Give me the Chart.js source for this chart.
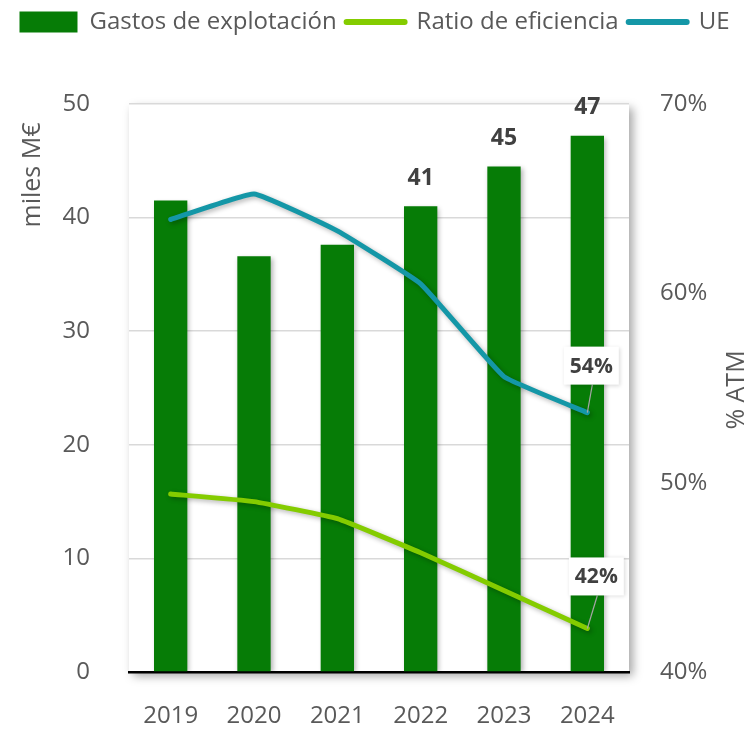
<!DOCTYPE html>
<html><head><meta charset="utf-8">
<script src="https://cdn.jsdelivr.net/npm/chart.js@4"></script>
<style>html,body{margin:0;padding:0;background:#fff}#wrap{width:749px;height:730px;position:relative}</style>
</head><body><div id="wrap"><canvas id="c" width="749" height="730"></canvas></div>
<script>
const categories = ['2019', '2020', '2021', '2022', '2023', '2024'];
const gastos = [41.5, 36.6, 37.6, 41.0, 44.5, 47.2];
const ratio = [49.4, 49.0, 48.1, 46.3, 44.3, 42.3];
const ue = [63.9, 65.25, 63.3, 60.5, 55.6, 53.7];
const gastosLabels = ['', '', '', '41', '45', '47'];
const ratioLabels = ['', '', '', '', '', '42%'];
const ueLabels = ['', '', '', '', '', '54%'];
const leftTicks = [0, 10, 20, 30, 40, 50];
const rightTicks = [40, 50, 60, 70];
const seriesNames = ['Gastos de explotación', 'Ratio de eficiencia', 'UE'];
const leftTitle = 'miles M€';
const rightTitle = '% ATM';

const FONT = "'Open Sans', 'Noto Sans', sans-serif";
const GREEN = '#067C06', LIME = '#84CC00', TEAL = '#1497A7';
const GREY = '#595959', DARK = '#404040';

const layoutPlugin = {
  id: 'layoutFix',
  beforeLayout(chart) {
    const lg = chart.legend;
    if (lg && !lg._patched) {
      const f = lg.fit;
      lg.fit = function () { f.call(this); this.height = 104; };
      lg._patched = true;
    }
  },
  beforeDraw(chart) {
    const { ctx, chartArea: a } = chart;
    ctx.save();
    ctx.shadowColor = 'rgba(0,0,0,0.35)';
    ctx.shadowBlur = 9;
    ctx.shadowOffsetX = 4;
    ctx.shadowOffsetY = 4;
    ctx.fillStyle = '#fff';
    ctx.fillRect(a.left, a.top, a.right - a.left, a.bottom - a.top);
    ctx.restore();
  },
  beforeDatasetDraw(chart) {
    const ctx = chart.ctx;
    ctx.save();
    ctx.shadowColor = 'rgba(0,0,0,0.3)';
    ctx.shadowBlur = 5;
    ctx.shadowOffsetX = 2;
    ctx.shadowOffsetY = 2;
  },
  afterDatasetDraw(chart) { chart.ctx.restore(); },
  afterDatasetsDraw(chart) {
    const ctx = chart.ctx;
    ctx.save();
    const bm = chart.getDatasetMeta(0);
    ctx.font = `bold 23px ${FONT}`;
    ctx.fillStyle = DARK;
    ctx.textAlign = 'center';
    ctx.textBaseline = 'middle';
    bm.data.forEach((el, i) => {
      if (gastosLabels[i]) ctx.fillText(gastosLabels[i], el.x, el.y - 28);
    });
    const callouts = [
      { meta: chart.getDatasetMeta(2), labels: ueLabels, dx: 4, dy: -47 },
      { meta: chart.getDatasetMeta(1), labels: ratioLabels, dx: 9, dy: -52 }
    ];
    ctx.font = `bold 21px ${FONT}`;
    callouts.forEach(c => {
      c.meta.data.forEach((el, i) => {
        const t = c.labels[i];
        if (!t) return;
        const cx = el.x + c.dx, cy = el.y + c.dy;
        const w = ctx.measureText(t).width + 12, h = 38;
        ctx.strokeStyle = '#a6a6a6';
        ctx.lineWidth = 1.2;
        ctx.beginPath();
        ctx.moveTo(el.x, el.y);
        ctx.lineTo(cx + 1, cy + h / 2);
        ctx.stroke();
        ctx.save();
        ctx.shadowColor = 'rgba(0,0,0,0.15)';
        ctx.shadowBlur = 4;
        ctx.shadowOffsetX = 1;
        ctx.shadowOffsetY = 1;
        ctx.fillStyle = '#fff';
        ctx.fillRect(cx - w / 2, cy - h / 2, w, h);
        ctx.restore();
        ctx.fillStyle = DARK;
        ctx.fillText(t, cx, cy + 1);
      });
    });
    ctx.restore();
  },
  afterDraw(chart) {
    const { ctx, chartArea: a } = chart;
    ctx.save();
    ctx.font = `25px ${FONT}`;
    ctx.fillStyle = GREY;
    ctx.textAlign = 'center';
    ctx.textBaseline = 'middle';
    ctx.translate(a.left - 96, a.top + 71);
    ctx.rotate(-Math.PI / 2);
    ctx.fillText(leftTitle, 0, 0);
    ctx.restore();
    ctx.save();
    ctx.font = `25px ${FONT}`;
    ctx.fillStyle = GREY;
    ctx.textAlign = 'center';
    ctx.textBaseline = 'middle';
    ctx.translate(a.right + 108, (a.top + a.bottom) / 2 + 2);
    ctx.rotate(-Math.PI / 2);
    ctx.fillText(rightTitle, 0, 0);
    ctx.restore();
  }
};

new Chart(document.getElementById('c'), {
  data: {
    labels: categories,
    datasets: [
      {
        type: 'bar', label: seriesNames[0], data: gastos, yAxisID: 'y',
        backgroundColor: GREEN, borderWidth: 0,
        barPercentage: 0.4, categoryPercentage: 1, order: 2
      },
      {
        type: 'line', label: seriesNames[1], data: ratio, yAxisID: 'y1',
        borderColor: LIME, backgroundColor: LIME, borderWidth: 5,
        borderCapStyle: 'round', borderJoinStyle: 'round',
        pointRadius: 0, pointHoverRadius: 0, tension: 0.1, order: 1
      },
      {
        type: 'line', label: seriesNames[2], data: ue, yAxisID: 'y1',
        borderColor: TEAL, backgroundColor: TEAL, borderWidth: 5,
        borderCapStyle: 'round', borderJoinStyle: 'round',
        pointRadius: 0, pointHoverRadius: 0, tension: 0.1, order: 1
      }
    ]
  },
  options: {
    responsive: false,
    devicePixelRatio: 1,
    animation: false,
    layout: { padding: 0 },
    plugins: {
      tooltip: { enabled: false },
      legend: {
        position: 'top',
        labels: {
          usePointStyle: true,
          pointStyleWidth: 58,
          boxHeight: 21,
          padding: 10,
          color: GREY,
          font: { family: FONT, size: 24 },
          generateLabels(chart) {
            return chart.data.datasets.map((ds, i) => ({
              text: ds.label,
              fillStyle: ds.type === 'bar' ? ds.backgroundColor : ds.borderColor,
              strokeStyle: ds.type === 'bar' ? ds.backgroundColor : ds.borderColor,
              lineWidth: ds.type === 'bar' ? 0 : 6,
              lineCap: 'round',
              pointStyle: ds.type === 'bar' ? 'rect' : 'line',
              fontColor: GREY,
              hidden: false,
              datasetIndex: i
            }));
          }
        }
      }
    },
    scales: {
      x: {
        offset: true,
        grid: { display: false, drawTicks: false },
        border: { display: true, color: '#000', width: 2.5 },
        ticks: { color: GREY, font: { family: FONT, size: 24 }, padding: 30, maxRotation: 0 },
        afterFit(s) { s.height = 58; }
      },
      y: {
        position: 'left', min: 0, max: 50,
        afterBuildTicks(s) { s.ticks = leftTicks.map(v => ({ value: v })); },
        grid: { color: '#d9d9d9', lineWidth: 1.5, drawTicks: false },
        border: { display: false },
        ticks: { color: GREY, font: { family: FONT, size: 24 }, padding: 39 },
        afterFit(s) { s.width = 129; }
      },
      y1: {
        position: 'right', min: 40, max: 70,
        afterBuildTicks(s) { s.ticks = rightTicks.map(v => ({ value: v })); },
        grid: { display: false, drawTicks: false },
        border: { display: false },
        ticks: { color: GREY, font: { family: FONT, size: 24 }, padding: 31, callback: v => v + '%' },
        afterFit(s) { s.width = 120; }
      }
    }
  },
  plugins: [layoutPlugin]
});
</script>
</body></html>
